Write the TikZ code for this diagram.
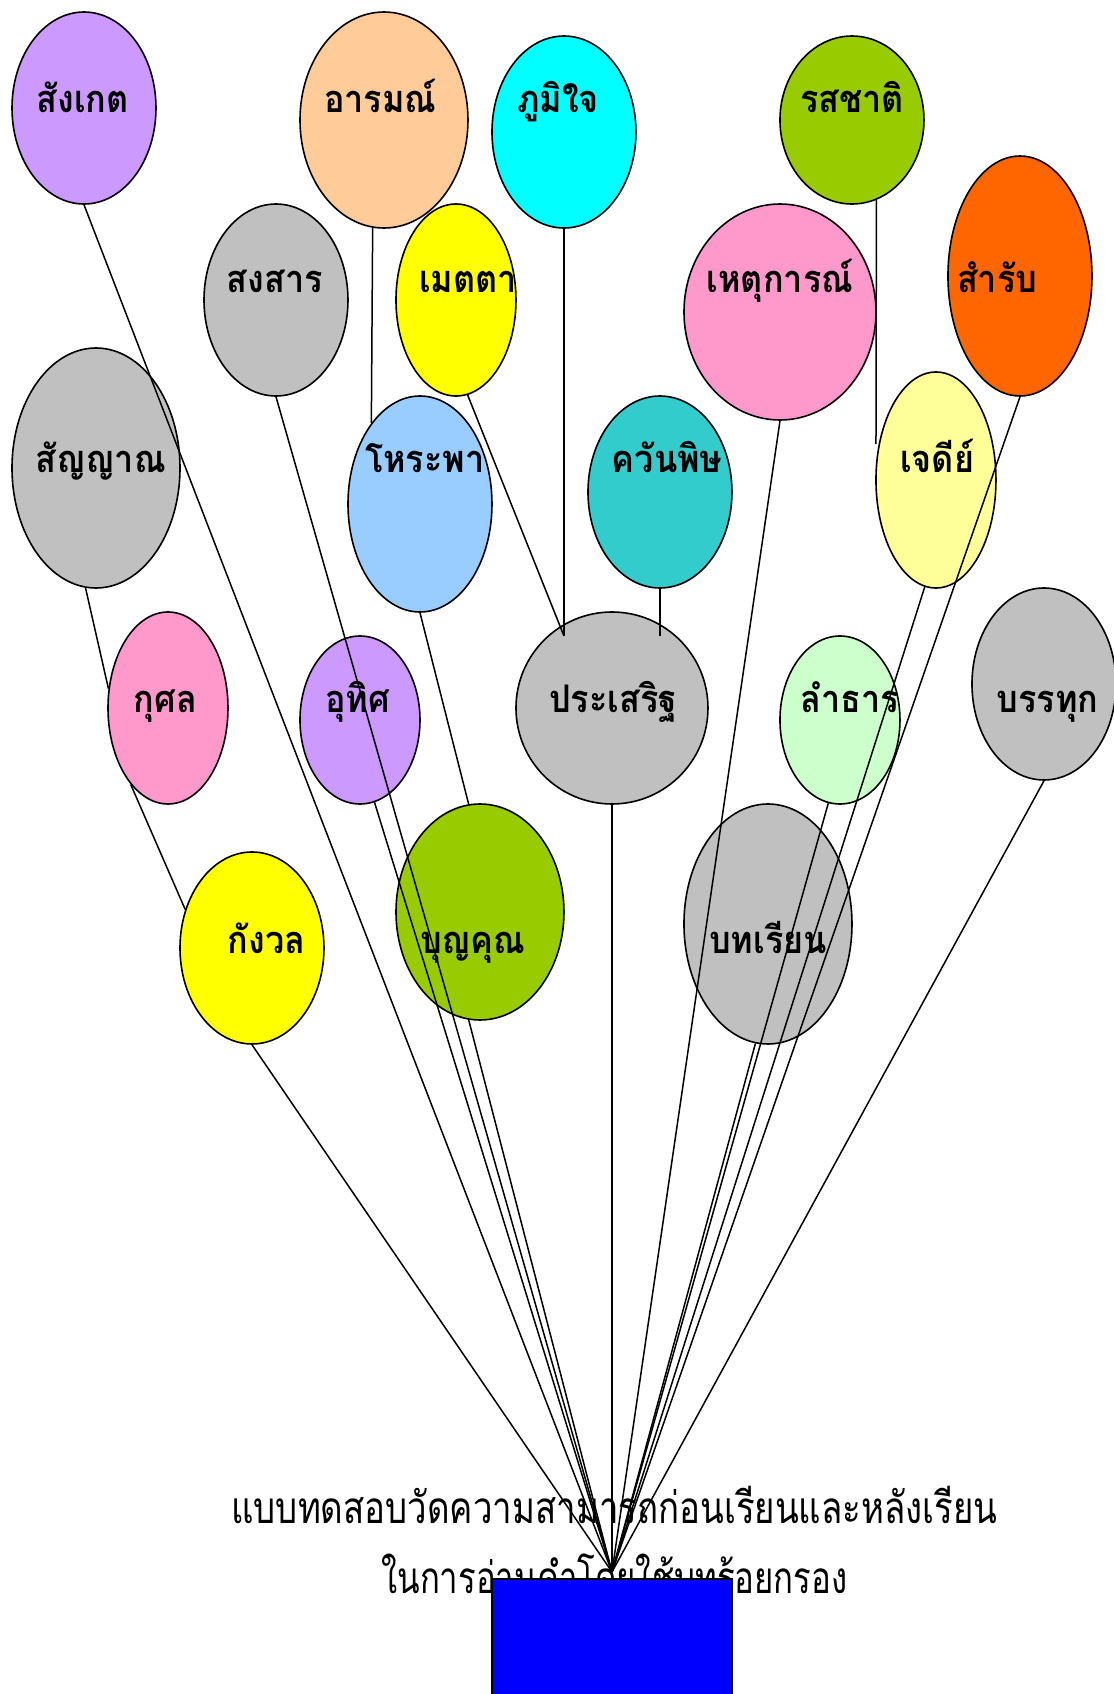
\documentclass[tikz,border=0pt]{standalone}
\usepackage{graphicx}
\usepackage{fontspec}
\newfontfamily\thaifont[Script=Thai,FakeStretch=0.9]{Loma}
\newfontfamily\thaititle[Script=Thai]{Loma}
\usetikzlibrary{shapes.geometric}
\definecolor{lilac}{HTML}{CC99FF}
\definecolor{peach}{HTML}{FFCC99}
\definecolor{aqua}{HTML}{00FFFF}
\definecolor{lemon}{HTML}{FFFF00}
\definecolor{grass}{HTML}{99CC00}
\definecolor{tangerine}{HTML}{FF6600}
\definecolor{rose}{HTML}{FF99CC}
\definecolor{silver}{HTML}{C0C0C0}
\definecolor{sky}{HTML}{99CCFF}
\definecolor{lagoon}{HTML}{33CCCC}
\definecolor{cream}{HTML}{FFFF99}
\definecolor{mint}{HTML}{CCFFCC}
\definecolor{royal}{HTML}{0000FF}

\begin{document}
\begin{tikzpicture}[x=6pt,y=-6pt,
  balloon/.style n args={3}{ellipse,draw,line width=0.8pt,fill=#1,minimum width=#2*6pt,minimum height=#3*6pt},
  word/.style={anchor=base,font=\thaifont\bfseries\fontsize{19}{23}\selectfont},
  heading/.style={anchor=base,font=\thaititle\fontsize{22}{26}\selectfont},
  string/.style={line width=0.75pt}]
            \tikzstyle{every node}+=[inner sep=0pt]
            \useasboundingbox (0,0) rectangle (92.83,141.17);
            \node[balloon={lilac}{12}{16}] (sk) at (7,9) {};
            \node[balloon={peach}{14}{18}] (am) at (32,10) {};
            \node[balloon={aqua}{12}{16}] (pj) at (47,11) {};
            \node[balloon={grass}{12}{14}] (rs) at (71,10) {};
            \node[balloon={tangerine}{12}{20}] (sr) at (85,23) {};
            \node[balloon={rose}{16}{18}] (hk) at (65,26) {};
            \node[balloon={silver}{12}{16}] (ss) at (23,25) {};
            \node[balloon={lemon}{10}{16}] (mt) at (38,25) {};
            \node[balloon={silver}{14}{20}] (sy) at (8,39) {};
            \node[balloon={sky}{12}{18}] (hp) at (35,42) {};
            \node[balloon={lagoon}{12}{16}] (kp) at (55,41) {};
            \node[balloon={cream}{10}{18}] (jd) at (78,40) {};
            \node[balloon={rose}{10}{16}] (ks) at (14,59) {};
            \node[balloon={lilac}{10}{14}] (ut) at (30,60) {};
            \node[balloon={silver}{16}{16}] (ps) at (51,59) {};
            \node[balloon={mint}{10}{14}] (lt) at (70,60) {};
            \node[balloon={silver}{12}{16}] (bt) at (87,57) {};
            \node[balloon={lemon}{12}{16}] (kw) at (21,79) {};
            \node[balloon={grass}{14}{18}] (bk) at (40,76) {};
            \node[balloon={silver}{14}{20}] (br) at (64,77) {};
            \node[word] (sk-t) at (6.9,9.4) {สังเกต};
            \node[word] (am-t) at (31.7,9.4) {อารมณ์};
            \node[word] (pj-t) at (46.5,9.4) {ภูมิใจ};
            \node[word] (rs-t) at (71,9.4) {รสชาติ};
            \node[word] (sr-t) at (83.1,24.4) {สำรับ};
            \node[word] (hk-t) at (65,24.4) {เหตุการณ์};
            \node[word] (ss-t) at (22.9,24.4) {สงสาร};
            \node[word] (mt-t) at (39,24.4) {เมตตา};
            \node[word] (sy-t) at (8.4,39.4) {สัญญาณ};
            \node[word] (hp-t) at (35.4,39.4) {โหระพา};
            \node[word] (kp-t) at (55.6,39.4) {ควันพิษ};
            \node[word] (jd-t) at (78.1,39.4) {เจดีย์};
            \node[word] (ks-t) at (13.8,59.4) {กุศล};
            \node[word] (ut-t) at (29.8,59.4) {อุทิศ};
            \node[word] (ps-t) at (51.1,59.4) {ประเสริฐ};
            \node[word] (lt-t) at (70.8,59.4) {ลำธาร};
            \node[word] (bt-t) at (87.3,59.4) {บรรทุก};
            \node[word] (kw-t) at (22.2,79.5) {กังวล};
            \node[word] (bk-t) at (39.4,79.5) {บุญคุณ};
            \node[word] (br-t) at (64,79.5) {บทเรียน};
            \node[heading] (line1) at (51.2,127) {\resizebox{383pt}{\height}{แบบทดสอบวัดความสามารถก่อนเรียนและหลังเรียน}};
            \node[heading] (line2) at (51.2,132.8) {\resizebox{233pt}{\height}{ในการอ่านคำโดยใช้บทร้อยกรอง}};
            \coordinate (tie) at (51,131);
            \coordinate (tieL) at (47,53);
            \coordinate (tieR) at (55,53);
            \coordinate (rsEnd) at (73,37);
            \draw[string] (sk.south) -- (tie);
            \draw[string] (ss.south) -- (tie);
            \draw[string] (ut.-80) -- (tie);
            \draw[string] (bk.-96) -- (tie);
            \draw[string] (kw.south) -- (tie);
            \draw[string] (ks.-116) -- (kw.150);
            \draw[string] (sy.-95) -- (ks.162);
            \draw[string] (hp.south) -- (bk.96);
            \draw[string] (am.-96) -- (hp.121);
            \draw[string] (pj.south) -- (tieL);
            \draw[string] (mt.-83) -- (tieL);
            \draw[string] (kp.south) -- (tieR);
            \draw[string] (ps.south) -- (tie);
            \draw[string] (hk.south) -- (tie);
            \draw[string] (rs.-73) -- (rsEnd);
            \draw[string] (jd.-96) -- (tie);
            \draw[string] (sr.south) -- (tie);
            \draw[string] (lt.-98) -- (tie);
            \draw[string] (br.-96) -- (tie);
            \draw[string] (bt.south) -- (tie);
            \node[draw,line width=0.8pt,fill=royal,anchor=north,minimum width=120pt,minimum height=66pt] (board) at (51,131.5) {};
\end{tikzpicture}
\end{document}
